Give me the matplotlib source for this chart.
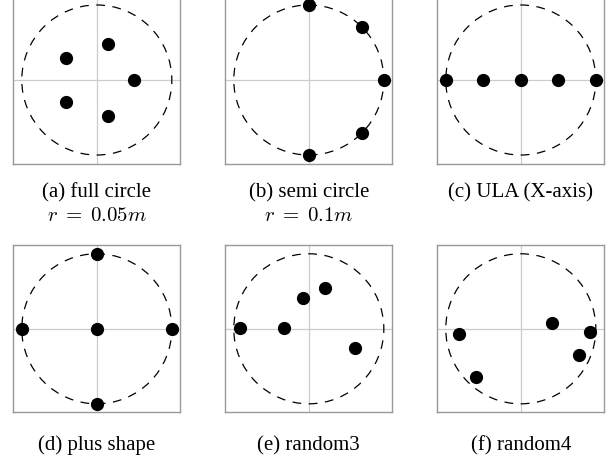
import matplotlib
matplotlib.use("Agg")
import matplotlib.pyplot as plt
from matplotlib.patches import Circle

plt.rcParams['font.family'] = ['Liberation Serif', 'DejaVu Serif']
plt.rcParams['mathtext.fontset'] = 'cm'

# microphone positions, in units of the array radius
full_x = [0.155, -0.405, 0.5, -0.405, 0.155]
full_y = [0.476, 0.294, 0.0, -0.294, -0.476]
semi_x = [0.0, 0.707, 1.0, 0.707, 0.0]
semi_y = [1.0, 0.707, 0.0, -0.707, -1.0]
ula_x = [-1.0, -0.5, 0.0, 0.5, 1.0]
ula_y = [0.0, 0.0, 0.0, 0.0, 0.0]
plus_x = [0.0, -1.0, 0.0, 1.0, 0.0]
plus_y = [1.0, 0.0, 0.0, 0.0, -1.0]
rand3_x = [-0.92, -0.33, -0.08, 0.22, 0.61]
rand3_y = [0.01, 0.01, 0.41, 0.54, -0.25]
rand4_x = [-0.82, -0.60, 0.41, 0.92, 0.77]
rand4_y = [-0.07, -0.64, 0.08, -0.04, -0.35]

captions = ["(a) full circle", "(b) semi circle", "(c) ULA (X-axis)",
            "(d) plus shape", "(e) random3", "(f) random4"]
radius_notes = [r"$r\;=\;0.05m$", r"$r\;=\;0.1m$", None, None, None, None]
layouts = [(full_x, full_y), (semi_x, semi_y), (ula_x, ula_y),
           (plus_x, plus_y), (rand3_x, rand3_y), (rand4_x, rand4_y)]

W, H = 613, 456
fig = plt.figure(figsize=(W / 100, H / 100), dpi=100)

lefts = [13.3, 225.3, 437.3]
bottoms = [164.5, 413.3]   # pixel row of the box bottom
cap_y = [193.0, 445.5]     # pixel row of the caption centre
size = 167
lim = 1.113

for i, (xs, ys) in enumerate(layouts):
    r, c = divmod(i, 3)
    ax = fig.add_axes([lefts[c] / W, (H - bottoms[r]) / H, size / W, size / H])
    ax.axhline(0, color='#cccccc', lw=0.9, zorder=0)
    ax.axvline(0, color='#cccccc', lw=0.9, zorder=0)
    ax.add_patch(Circle((0, 0), 1.0, fill=False, ls=(0, (7, 6)), lw=0.9, color='black'))
    ax.plot(xs, ys, 'o', color='black', ms=8.5, zorder=3, clip_on=False)
    ax.set_xlim(-lim, lim)
    ax.set_ylim(-lim, lim)
    ax.set_xticks([])
    ax.set_yticks([])
    for s in ax.spines.values():
        s.set_color('#999999')
        s.set_linewidth(1.0)
    ty = (bottoms[r] - cap_y[r]) / size
    ax.text(0.5, ty, captions[i], transform=ax.transAxes, ha='center', va='center',
            fontsize=15)
    if radius_notes[i]:
        ax.text(0.5, ty - 24 / size, radius_notes[i], transform=ax.transAxes,
                ha='center', va='center', fontsize=15)

fig.savefig('out.png', dpi=100)
